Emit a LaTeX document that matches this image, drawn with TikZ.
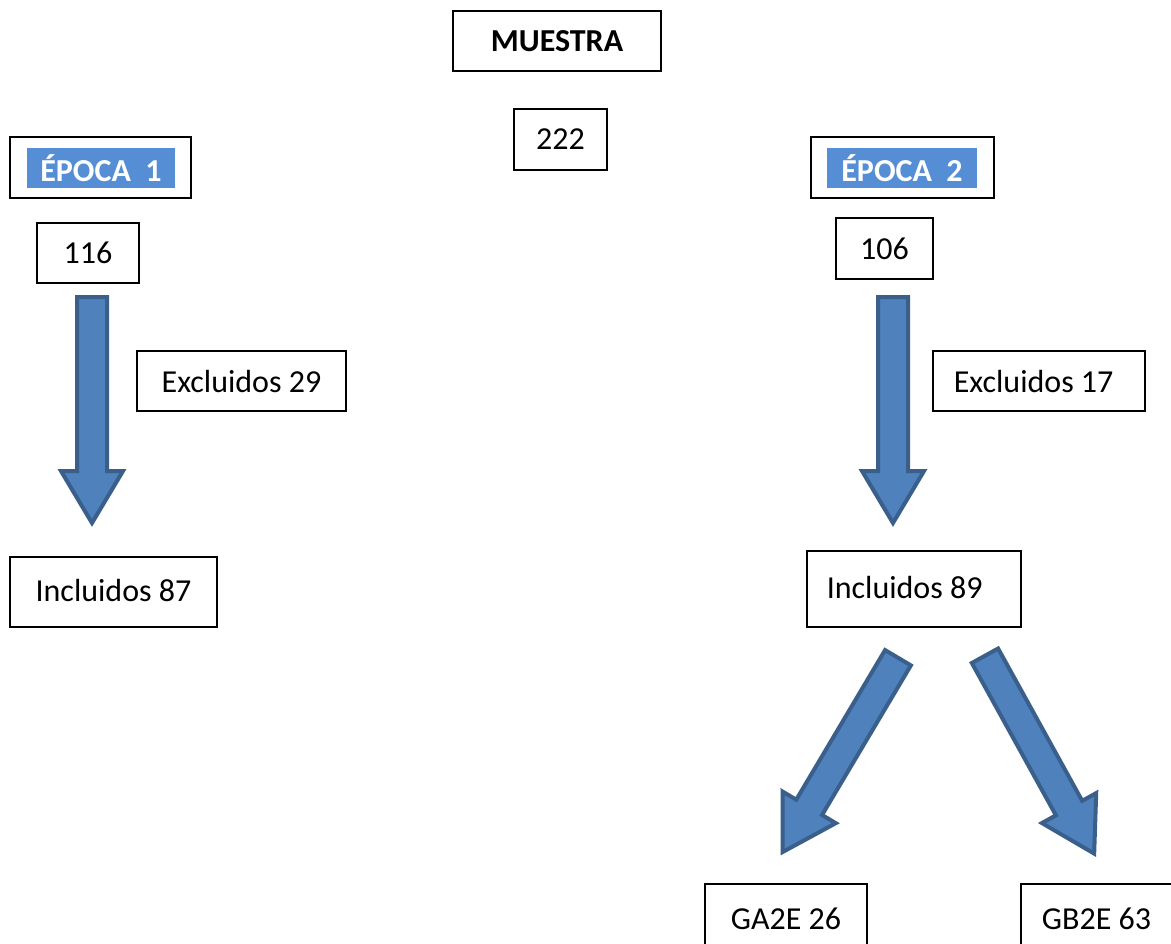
\documentclass[tikz,border=0pt]{standalone}
\usepackage{fontspec}
\setmainfont{Carlito}
\usepackage{xcolor}
\usepackage{tikz}
\definecolor{arrowfill}{HTML}{4F81BD}
\definecolor{arrowline}{HTML}{3A5F8B}
\definecolor{tagfill}{HTML}{558ED5}
\tikzset{
  flow box/.style={draw, line width=1.5pt, inner sep=0pt, font=\fontsize{24}{28}\selectfont},
  flow tag/.style={fill=tagfill, text=white, inner sep=0pt, font=\fontsize{24}{28}\selectfont\bfseries},
  block arrow/.pic={
    \draw[line width=3pt, fill=arrowfill, draw=arrowline, line join=miter]
      (-15,2) -- (15,2) -- (15,176) -- (31,176) -- (0,228) -- (-31,176) -- (-15,176) -- cycle;
  }
}

\begin{document}
\begin{tikzpicture}[x=0.75pt, y=-0.75pt]
  \useasboundingbox (0,0) rectangle (1171,943);
  % top
  \node[flow box, minimum width=156pt, minimum height=45pt, font=\fontsize{24}{28}\selectfont\bfseries] (muestra) at (557,41) {MUESTRA};
  \node[flow box, minimum width=69.75pt, minimum height=45.75pt] (total) at (560.5,139) {222};
  % epoca 1
  \node[flow box, minimum width=135.75pt, minimum height=45.75pt] (epoca1) at (100.5,167.5) {};
  \node[flow tag, minimum width=111pt, minimum height=30pt] (tag1) at (101,168) {ÉPOCA\ \ 1};
  \node[flow box, minimum width=76.5pt, minimum height=45pt] (n116) at (88,253) {116};
  \node[flow box, minimum width=156.75pt, minimum height=45pt] (excl29) at (241.5,381) {Excluidos 29};
  \node[flow box, minimum width=155.25pt, minimum height=52.5pt] (incl87) at (113.5,592) {\raisebox{3pt}{Incluidos 87}};
  % epoca 2
  \node[flow box, minimum width=137.25pt, minimum height=45.75pt] (epoca2) at (902.5,167.5) {};
  \node[flow tag, minimum width=112.5pt, minimum height=30pt] (tag2) at (902,168) {ÉPOCA\ \ 2};
  \node[flow box, minimum width=72.75pt, minimum height=45.75pt] (n106) at (884.5,248.5) {106};
  \node[flow box, minimum width=159pt, minimum height=45pt] (excl17) at (1039,381) {\hspace*{-8pt}Excluidos 17};
  \node[flow box, minimum width=160.5pt, minimum height=57pt] (incl89) at (914,589) {\hspace*{-14pt}\raisebox{2pt}{Incluidos 89}};
  \node[flow box, minimum width=121.5pt, minimum height=52.5pt] (ga2e) at (786,919) {GA2E 26};
  \node[flow box, minimum width=113.25pt, minimum height=52.5pt] (gb2e) at (1096.5,919) {GB2E 63};
  % arrows
  \pic at (92,295) {block arrow};
  \pic at (893,295) {block arrow};
  \pic[rotate=-30.7] at (899,656) {block arrow};
  \pic[rotate=28.9] at (984,654) {block arrow};
\end{tikzpicture}
\end{document}
